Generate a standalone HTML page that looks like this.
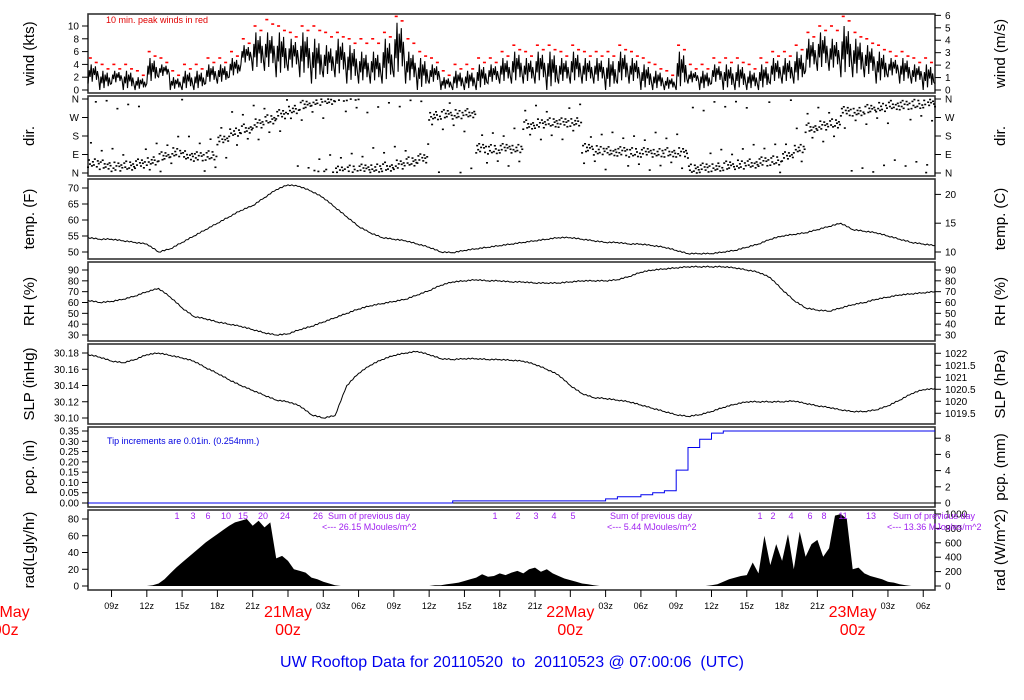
<!DOCTYPE html>
<html><head><meta charset="utf-8"><style>
html,body{margin:0;padding:0;background:#fff;}
svg{display:block;font-family:"Liberation Sans",sans-serif;}
</style></head><body>
<svg id="chart" width="1024" height="700" viewBox="0 0 1024 700" xmlns="http://www.w3.org/2000/svg">
<text x="106" y="23" font-size="9" fill="#e00000">10 min. peak winds in red</text>
<text x="107" y="444" font-size="9" fill="#0000e0">Tip increments are 0.01in. (0.254mm.)</text>
<text x="512" y="667" font-size="16" fill="#0000ee" text-anchor="middle" style="white-space:pre" xml:space="preserve">UW Rooftop Data for 20110520  to  20110523 @ 07:00:06  (UTC)</text>
</svg>
<script>
const windMin=[1,0,1,0,0,1,2,0,0,0,1,1,2,4,3,3,2,3,2,1,2,2,1,1,1,1,2,1,0,1,0,0,0,0,1,1,1,1,1,0,1,1,1,1,0,1,1,0,0,0,0,1,0,1,0,0,0,0,1,1,1,3,3,3,2,2,2,1,2,1,1,0,1];
const windMax=[4,3,3,3,2,5,4,2,3,3,4,4,5,7,9,9,9,8,9,8,7,8,7,6,6,8,10.5,6,5,4,2,3,3,4,4,5,6,5,6,6,5,6,5,5,5,6,5,4,3,2,6,3,3,4,4,4,3,4,5,5,6,8,9,8,10,8,7,6,5,5,4,4,3];
const windPeak=[5,4,4,4,3,6,5,3,4,4,5,5,6,8,10,11,10,9,10,10,9,9,8,8,8,9,11.5,8,6,5,3,4,4,5,5,6,7,6,7,7,6,7,6,6,6,7,6,5,4,3,7,4,4,5,5,5,4,5,6,6,7,9,10,10,11.5,9,8,7,6,6,5,5,4];
const windDir=[50,40,30,35,45,60,80,100,85,80,85,160,200,215,240,260,285,310,330,350,355,10,15,20,25,30,40,55,70,280,285,285,290,120,115,120,120,235,240,245,245,250,120,110,105,105,100,100,100,100,100,20,25,30,35,40,45,55,60,80,120,220,230,240,300,300,310,320,330,330,335,340,345];
const tempF=[54.5,54,54,53.5,53,52.5,50,51,53,55,57,59,61,63,64.5,67,69.5,71,70.5,69,67,64,61,58,56,54.5,54,53.5,52.5,51.5,50,49.8,50.5,51,51.5,52,52.5,53,53.5,54,54.5,54.5,54,53.5,53,53,52.5,52.5,52,51.5,50.5,49.5,49.5,49.5,50,50.5,51.5,52.5,54,55,55.5,56,57,58,59,57,56.5,56,55,54,53,52.5,52];
const rh=[62,60,61,63,66,70,73,65,55,47,45,42,40,38,35,32,30,31,35,38,42,46,50,54,57,59,61,63,67,71,76,79,80,81,80,80,79,79,78,78,78,79,80,80,80,81,84,88,90,91,92,93,93,93,93,92,90,88,83,72,62,55,53,52,55,58,60,63,65,67,68,69,70];
const slp=[30.178,30.175,30.17,30.168,30.172,30.178,30.18,30.177,30.174,30.17,30.162,30.155,30.147,30.14,30.134,30.128,30.122,30.12,30.115,30.104,30.10,30.103,30.14,30.155,30.165,30.172,30.177,30.18,30.182,30.178,30.173,30.172,30.173,30.173,30.172,30.172,30.171,30.17,30.166,30.16,30.153,30.14,30.13,30.125,30.124,30.122,30.12,30.116,30.112,30.108,30.104,30.102,30.104,30.108,30.113,30.117,30.12,30.12,30.12,30.12,30.121,30.118,30.115,30.113,30.11,30.108,30.108,30.11,30.115,30.122,30.13,30.135,30.136];
const pcp=[0,0,0,0,0,0,0,0,0,0,0,0,0,0,0,0,0,0,0,0,0,0,0,0,0,0,0,0,0,0,0,0.01,0.01,0.01,0.01,0.01,0.01,0.01,0.01,0.01,0.01,0.01,0.01,0.01,0.02,0.03,0.03,0.04,0.05,0.06,0.16,0.27,0.31,0.34,0.35,0.35,0.35,0.35,0.35,0.35,0.35,0.35,0.35,0.35,0.35,0.35,0.35,0.35,0.35,0.35,0.35,0.35,0.35];
const radHalfHour=[0,0,0,0,0,0,0,0,0,0,0,1,3,8,15,22,28,34,40,46,52,57,62,67,72,76,78,80,72,78,70,76,33,36,30,20,18,16,10,8,5,3,1,0,0,0,0,0,0,0,0,0,0,0,0,0,0,0,0,1,1,2,3,4,6,8,10,14,11,12,15,13,16,18,15,20,22,17,20,15,12,9,7,5,3,2,1,0,0,0,0,0,0,0,0,0,0,0,0,0,0,0,0,0,0,0,1,2,5,8,10,12,13,28,15,60,25,50,30,62,20,65,35,50,55,35,45,84,86,80,20,22,15,12,10,8,5,4,2,1,0,0,0,0,0];
const hourLabels=["09z","12z","15z","18z","21z","","03z","06z","09z","12z","15z","18z","21z","","03z","06z","09z","12z","15z","18z","21z","","03z","06z"];
const dayLabels=["20May","21May","22May","23May"];

const svg=document.getElementById('chart');
const NS="http://www.w3.org/2000/svg";
const X0=88,X1=935,HOURS=72;
function xs(h){return X0+(X1-X0)*h/HOURS;}
function mk(tag,attrs,parent){const e=document.createElementNS(NS,tag);for(const k in attrs)e.setAttribute(k,attrs[k]);(parent||svg).appendChild(e);return e;}
function txt(x,y,s,size,anchor,fill,parent){const t=mk('text',{x:x,y:y,'font-size':size,'text-anchor':anchor||'start',fill:fill||'#000'},parent);t.textContent=s;return t;}
function scale(v0,y0,v1,y1){return v=>y0+(v-v0)*(y1-y0)/(v1-v0);}

const panels=[
 {name:'wind',top:14,bot:93,title:'wind (kts)',rtitle:'wind (m/s)'},
 {name:'dir',top:96,bot:176,title:'dir.',rtitle:'dir.'},
 {name:'temp',top:179,bot:259,title:'temp. (F)',rtitle:'temp. (C)'},
 {name:'rh',top:262,bot:341,title:'RH (%)',rtitle:'RH (%)'},
 {name:'slp',top:344,bot:424,title:'SLP (inHg)',rtitle:'SLP (hPa)'},
 {name:'pcp',top:427,bot:507,title:'pcp. (in)',rtitle:'pcp. (mm)'},
 {name:'rad',top:510,bot:590,title:'rad(Lgly/hr)',rtitle:'rad (W/m^2)'}
];
panels.forEach(p=>{
 const g=mk('g',{});
 
 
 const r=mk('rect',{x:X0,y:p.top,width:X1-X0,height:p.bot-p.top,fill:'none',stroke:'#333','stroke-width':1.6},g);
 
 
 const cy=(p.top+p.bot)/2;
 const t=txt(0,0,p.title,15,'middle','#000',g);
 t.setAttribute('transform','translate(34,'+cy+') rotate(-90)');
 
 
 const t2=txt(0,0,p.rtitle,15,'middle','#000',g);
 t2.setAttribute('transform','translate(1005,'+cy+') rotate(-90)');
 
 
 p.g=g;
});
function leftTicks(p,vals,labels,ys){
 vals.forEach((v,i)=>{const y=ys(v);mk('line',{x1:X0-6,x2:X0,y1:y,y2:y,stroke:'#000'},p.g);
  const t=txt(X0-9,y+3.5,labels[i],10,'end','#000',p.g);
  
  });
}
function rightTicks(p,vals,labels,ys){
 vals.forEach((v,i)=>{const y=ys(v);mk('line',{x1:X1,x2:X1+6,y1:y,y2:y,stroke:'#000'},p.g);
  const t=txt(X1+10,y+3.5,labels[i],10,'start','#000',p.g);
  
  });
}
// slightly wiggly line through hourly values for a recorded-trace look
function linePath(arr,ys,step){let d='';const wig=[0,0.6,-0.5,0.4,-0.6,0.3];
 arr.forEach((v,i)=>{const y0=ys(v);d+=(i?'L':'M')+xs(i*step).toFixed(1)+','+y0.toFixed(1);
  if(i<arr.length-1){const y1=ys(arr[i+1]);for(let k=1;k<6;k++){const f=k/6;d+='L'+xs((i+f)*step).toFixed(1)+','+(y0+(y1-y0)*f+wig[k]).toFixed(1);}}});
 return d;}

// wind
const wy=scale(0,90,10,26);
{const p=panels[0];
 leftTicks(p,[0,2,4,6,8,10],['0','2','4','6','8','10'],wy);
 rightTicks(p,[0,1,2,3,4,5,6],['0','1','2','3','4','5','6'],v=>wy(v*1.9438));
 let d='';
 const sub=[[0,0],[0.1,0.7],[0.18,0.35],[0.27,1],[0.36,0.1],[0.45,0.8],[0.55,0.45],[0.63,0.9],[0.72,0.2],[0.8,0.65],[0.9,0.3]];
 windMin.forEach((mn,h)=>{const mx=windMax[h];
  sub.forEach((q,j)=>{if(h===72&&q[0]>0)return;d+=((h===0&&j===0)?'M':'L')+xs(h+q[0]).toFixed(1)+','+wy(mn+(mx-mn)*q[1]).toFixed(1);});});
 const l=mk('path',{d:d,fill:'none',stroke:'#000','stroke-width':1.1},p.g);
 
 
 windPeak.forEach((pk,h)=>{[[0.2,pk],[0.7,pk-0.7]].forEach(q=>{if(h+q[0]>72)return;
  const r=mk('rect',{x:xs(h+q[0])-1.5,y:wy(q[1])-0.8,width:3,height:1.6,fill:'#ff0000'},p.g);
  
  });});
}
// dir
const dy=scale(0,173,360,99);
{const p=panels[1];
 leftTicks(p,[0,90,180,270,360],['N','E','S','W','N'],dy);
 rightTicks(p,[0,90,180,270,360],['N','E','S','W','N'],dy);
 const offs=[-1,0.6,-0.3,1,-0.7,0.2,-0.5,0.8,0.1,-0.9,0.4,-0.2];
 const far=[0,0,0,2.5,0,0,0,0,-2.2,0,0,0];
 windDir.forEach((dv,h)=>{offs.forEach((o,k)=>{const hh=h+k/offs.length;if(hh>72)return;
  let v=dv+o*22+far[(k+h)%12]*30;v=((v%360)+360)%360;
  const r=mk('rect',{x:xs(hh)-1,y:dy(v)-0.8,width:2,height:1.6,fill:'#000'},p.g);
  
  });});
}
// temp
const ty=scale(50,252,70,188);
{const p=panels[2];
 leftTicks(p,[50,55,60,65,70],['50','55','60','65','70'],ty);
 rightTicks(p,[10,15,20],['10','15','20'],c=>ty(c*1.8+32));
 const l=mk('path',{d:linePath(tempF,ty,1),fill:'none',stroke:'#000','stroke-width':1},p.g);
 
 }
// rh
const ry=scale(30,335,90,270);
{const p=panels[3];
 const v=[30,40,50,60,70,80,90],lb=v.map(String);
 leftTicks(p,v,lb,ry);rightTicks(p,v,lb,ry);
 const l=mk('path',{d:linePath(rh,ry,1),fill:'none',stroke:'#000','stroke-width':1},p.g);
 
 }
// slp
const sy=scale(30.10,418,30.18,353);
{const p=panels[4];
 const v=[30.10,30.12,30.14,30.16,30.18];
 leftTicks(p,v,v.map(x=>x.toFixed(2)),sy);
 const hv=[1019.5,1020,1020.5,1021,1021.5,1022];
 rightTicks(p,hv,hv.map(String),h=>sy(h*0.029530));
 const l=mk('path',{d:linePath(slp,sy,1),fill:'none',stroke:'#000','stroke-width':1},p.g);
 
 }
// pcp
const py=scale(0,503,0.35,431);
{const p=panels[5];
 const v=[0,0.05,0.10,0.15,0.20,0.25,0.30,0.35];
 leftTicks(p,v,v.map(x=>x.toFixed(2)),py);
 rightTicks(p,[0,2,4,6,8],['0','2','4','6','8'],m=>py(m/25.4));
 mk('line',{x1:X0,x2:X1,y1:py(0),y2:py(0),stroke:'#000','stroke-width':1},p.g);
 let d='';pcp.forEach((v,i)=>{d+=(i?'H'+xs(i).toFixed(1)+'V':'M'+xs(0)+',')+py(v).toFixed(1);});
 d+='H'+X1;
 const l=mk('path',{d:d,fill:'none',stroke:'#0000ee','stroke-width':1},p.g);
 
 }
// rad
const ay=scale(0,586,80,519);
{const p=panels[6];
 leftTicks(p,[0,20,40,60,80],['0','20','40','60','80'],ay);
 const w=[0,200,400,600,800,1000];
 rightTicks(p,w,w.map(String),x=>ay(x/11.63));
 let d='M'+xs(0)+','+ay(0);
 radHalfHour.forEach((v,i)=>{d+='L'+xs(i/2).toFixed(1)+','+ay(v).toFixed(1);});
 d+='L'+xs(72)+','+ay(0)+'Z';
 const a=mk('path',{d:d,fill:'#000',stroke:'none'},p.g);
 
 
 const purple='#a020f0';
 const hl=[[177,'1'],[193,'3'],[208,'6'],[226,'10'],[243,'15'],[263,'20'],[285,'24'],[318,'26'],[495,'1'],[518,'2'],[536,'3'],[554,'4'],[573,'5'],[760,'1'],[773,'2'],[791,'4'],[810,'6'],[824,'8'],[843,'11'],[871,'13']];
 hl.forEach(q=>{const t=txt(q[0],519,q[1],9,'middle',purple,p.g);
  
  });
 [[328,322,'26.15'],[610,607,'5.44'],[893,887,'13.36']].forEach(q=>{
  const t=txt(q[0],519,'Sum of previous day',9,'start',purple,p.g);
  
  
  const t2=txt(q[1],530,'<--- '+q[2]+' MJoules/m^2',9,'start',purple,p.g);
  
  });
}
// x axis
for(let h=2,i=0;h<=72;h+=3,i++){
 mk('line',{x1:xs(h),x2:xs(h),y1:590,y2:597,stroke:'#000'});
 if(hourLabels[i]){const t=txt(xs(h),609,hourLabels[i],9,'middle');
  
  }
}
dayLabels.forEach((s,i)=>{const x=xs(-7+24*i);
 const t=txt(x,617,s,16,'middle','#ff0000');
 
 
 const t2=txt(x,635,'00z',16,'middle','#ff0000');
 
 });
</script>
</body></html>
